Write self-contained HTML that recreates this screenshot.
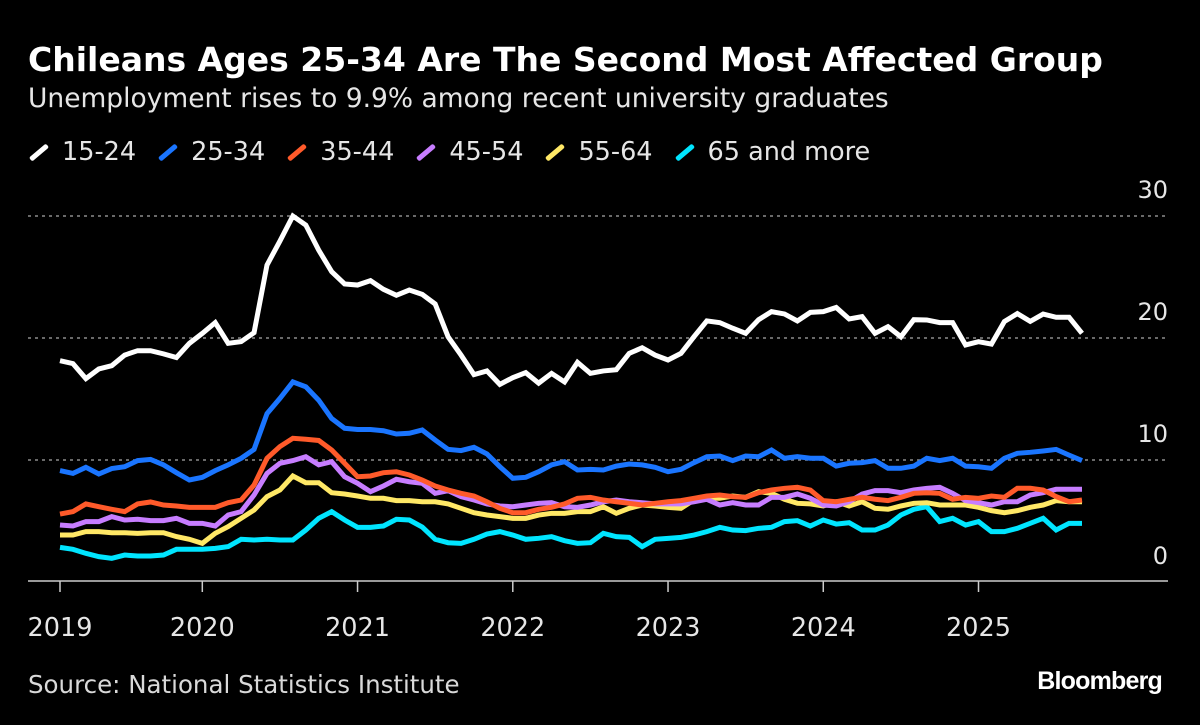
<!DOCTYPE html>
<html><head><meta charset="utf-8">
<style>
body{margin:0;background:#000;width:1200px;height:725px;overflow:hidden;font-family:"DejaVu Sans","Liberation Sans",sans-serif;color:#fff;position:relative}
.t{position:absolute;left:28px;top:40px;font-size:33px;font-weight:bold;white-space:nowrap}
.s{position:absolute;left:28px;top:83px;font-size:26.5px;color:#e6e6e6;white-space:nowrap}
.lg{position:absolute;left:28px;top:137px;font-size:25.5px;color:#e6e6e6;display:flex;white-space:nowrap}
.li{display:flex;align-items:center;margin-right:21px}
.sw{width:22px;height:5px;transform:rotate(-40deg);margin-right:12px;border-radius:2px}
.src{position:absolute;left:28px;top:670px;font-size:24.5px;color:#d9d9d9;white-space:nowrap}
.bb{position:absolute;right:38px;top:667px;font-size:25px;font-weight:bold;letter-spacing:-0.8px;font-family:"Liberation Sans",sans-serif}
</style></head><body>
<div class="t">Chileans Ages 25-34 Are The Second Most Affected Group</div>
<div class="s">Unemployment rises to 9.9% among recent university graduates</div>
<div class="lg">
<div class="li"><span class="sw" style="background:#ffffff"></span>15-24</div>
<div class="li"><span class="sw" style="background:#1a75ff"></span>25-34</div>
<div class="li"><span class="sw" style="background:#ff5a2a"></span>35-44</div>
<div class="li"><span class="sw" style="background:#c77dff"></span>45-54</div>
<div class="li"><span class="sw" style="background:#ffe866"></span>55-64</div>
<div class="li"><span class="sw" style="background:#00e5ff"></span>65 and more</div>
</div>
<svg id="chart" width="1200" height="725" style="position:absolute;left:0;top:0"></svg>
<div class="src">Source: National Statistics Institute</div>
<div class="bb">Bloomberg</div>
<script>
const yTicks=[0,10,20,30];
const xTickIdx=[0,11,23,35,47,59,71];
const xTickLabels=["2019","2020","2021","2022","2023","2024","2025"];
const s1524=[18.14,17.9,16.67,17.46,17.73,18.6,18.96,18.96,18.7,18.4,19.56,20.38,21.26,19.56,19.7,20.44,25.98,27.95,30,29.26,27.2,25.44,24.43,24.34,24.7,23.99,23.5,23.93,23.58,22.79,20.1,18.6,17.0,17.3,16.2,16.75,17.16,16.3,17.1,16.4,18.0,17.1,17.3,17.4,18.74,19.2,18.6,18.2,18.74,20.1,21.4,21.26,20.8,20.38,21.5,22.16,21.97,21.4,22.1,22.16,22.5,21.56,21.75,20.38,20.93,20.1,21.5,21.48,21.26,21.26,19.43,19.7,19.5,21.35,22.0,21.36,21.96,21.7,21.7,20.38];
const s2534=[9.13,8.9,9.4,8.85,9.3,9.45,9.95,10.05,9.6,8.96,8.36,8.58,9.13,9.6,10.14,10.87,13.8,15.05,16.4,16.0,14.9,13.4,12.6,12.5,12.5,12.4,12.13,12.19,12.46,11.64,10.87,10.77,11.04,10.5,9.45,8.5,8.58,9.04,9.6,9.86,9.18,9.23,9.18,9.5,9.67,9.6,9.4,9.04,9.23,9.78,10.27,10.33,9.95,10.33,10.27,10.82,10.14,10.27,10.14,10.14,9.5,9.73,9.78,9.95,9.32,9.32,9.5,10.14,9.95,10.14,9.5,9.45,9.32,10.14,10.55,10.63,10.74,10.87,10.4,9.95];
const s3544=[5.57,5.77,6.4,6.17,5.96,5.77,6.4,6.56,6.31,6.23,6.12,6.12,6.12,6.5,6.72,7.95,10.14,11.1,11.78,11.7,11.6,10.82,9.73,8.63,8.69,8.96,9.04,8.77,8.36,7.87,7.54,7.27,7.05,6.58,6.04,5.68,5.68,5.96,6.12,6.4,6.86,6.94,6.72,6.58,6.45,6.31,6.45,6.58,6.67,6.86,7.05,7.13,7.0,6.94,7.32,7.54,7.68,7.76,7.54,6.67,6.58,6.78,6.94,6.78,6.67,6.94,7.27,7.32,7.27,6.78,6.94,6.86,7.05,6.94,7.68,7.68,7.54,7.0,6.58,6.72];
const s4554=[4.67,4.59,4.95,4.95,5.36,5.08,5.14,5.03,5.03,5.22,4.81,4.81,4.59,5.49,5.77,7.13,8.9,9.73,9.95,10.27,9.6,9.86,8.63,8.09,7.4,7.87,8.42,8.22,8.09,7.27,7.49,7.0,6.72,6.4,6.23,6.17,6.31,6.45,6.5,6.17,6.12,6.31,6.58,6.72,6.58,6.5,6.4,6.4,6.4,6.58,6.78,6.31,6.5,6.31,6.31,6.94,6.94,7.21,6.86,6.31,6.23,6.58,7.21,7.49,7.49,7.32,7.54,7.68,7.76,7.27,6.67,6.5,6.31,6.58,6.58,7.13,7.32,7.6,7.6,7.6];
const s5564=[3.85,3.85,4.13,4.13,4.04,4.04,3.99,4.04,4.04,3.72,3.5,3.17,3.99,4.54,5.22,5.9,7.0,7.54,8.69,8.14,8.14,7.32,7.21,7.05,6.86,6.86,6.67,6.67,6.58,6.58,6.4,6.04,5.68,5.49,5.36,5.22,5.22,5.49,5.63,5.63,5.77,5.77,6.17,5.63,6.04,6.31,6.23,6.12,6.04,6.72,6.86,6.86,7.05,6.94,7.4,7.27,6.78,6.45,6.4,6.23,6.58,6.23,6.58,6.04,5.96,6.23,6.45,6.5,6.31,6.31,6.31,6.12,5.85,5.68,5.85,6.12,6.31,6.67,6.58,6.58];
const s65=[2.84,2.68,2.35,2.08,1.94,2.21,2.13,2.13,2.21,2.68,2.68,2.68,2.76,2.9,3.5,3.44,3.5,3.44,3.44,4.26,5.22,5.77,5.08,4.48,4.48,4.59,5.14,5.08,4.5,3.5,3.22,3.17,3.5,3.93,4.13,3.85,3.5,3.58,3.72,3.39,3.17,3.22,3.99,3.72,3.66,2.9,3.5,3.58,3.66,3.85,4.13,4.48,4.26,4.21,4.4,4.48,4.95,5.03,4.59,5.08,4.75,4.86,4.26,4.26,4.67,5.49,5.96,6.17,4.95,5.22,4.67,4.95,4.13,4.13,4.4,4.81,5.22,4.26,4.81,4.81];
const series=[[s65,"#00e5ff","series-65-plus"],[s5564,"#ffe866","series-55-64"],[s4554,"#c77dff","series-45-54"],[s3544,"#ff5a2a","series-35-44"],[s2534,"#1a75ff","series-25-34"],[s1524,"#ffffff","series-15-24"]];
const NS="http://www.w3.org/2000/svg";
const svg=document.getElementById('chart');
function xs(i){return 60+i*(1022/79);}
function ys(v){return 582-v*12.2;}
function mk(t,a){const e=document.createElementNS(NS,t);for(const k in a)e.setAttribute(k,a[k]);svg.appendChild(e);return e;}
yTicks.forEach(v=>{
  if(v>0){const g=mk('line',{x1:28,x2:1168,y1:ys(v),y2:ys(v),stroke:'#8c8c8c','stroke-width':1.5,'stroke-dasharray':'3,4'});
  
  }
  const t=mk('text',{x:1168,y:ys(v)-18,'text-anchor':'end',fill:'#e6e6e6','font-size':24,'font-family':'DejaVu Sans, sans-serif'});
  t.textContent=v;
  
  
});
const ax=mk('line',{x1:28,x2:1168,y1:581,y2:581,stroke:'#cccccc','stroke-width':1.5});


xTickIdx.forEach((ix,k)=>{
  const x=xs(ix);
  const tk=mk('line',{x1:x,x2:x,y1:581,y2:592,stroke:'#cccccc','stroke-width':1.5});
  
  
  const t=mk('text',{x:x,y:636,'text-anchor':'middle',fill:'#e6e6e6','font-size':25.5,'font-family':'DejaVu Sans, sans-serif'});
  t.textContent=xTickLabels[k];
  
  
});
series.forEach(([d,c,n])=>{
  const p=mk('polyline',{points:d.map((v,i)=>xs(i)+','+ys(v)).join(' '),fill:'none',stroke:c,'stroke-width':5,'stroke-linejoin':'miter'});
  
  
});
</script>
</body></html>
